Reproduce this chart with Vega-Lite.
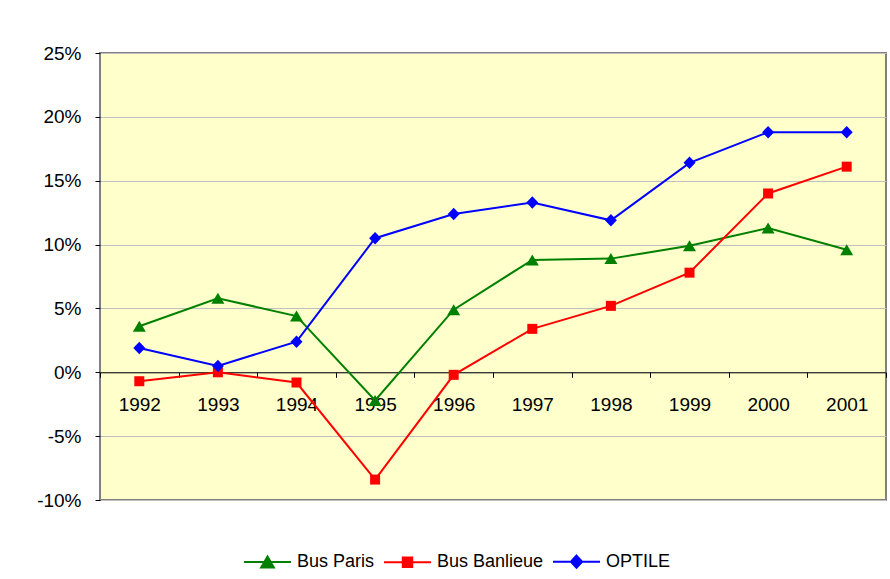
{
  "$schema": "https://vega.github.io/schema/vega-lite/v6.json",
  "width": 786,
  "height": 447,
  "autosize": {"type": "none"},
  "padding": {"left": 100, "top": 53, "right": 4, "bottom": 79},
  "background": "#ffffff",
  "config": {
    "font": "Liberation Sans",
    "view": {"fill": "#FFFFCC", "stroke": "#808080", "strokeWidth": 2}
  },
  "data": {
    "values": [
      {"year": "1992", "series": "Bus Paris", "value": 3.6},
      {"year": "1993", "series": "Bus Paris", "value": 5.8},
      {"year": "1994", "series": "Bus Paris", "value": 4.4},
      {"year": "1995", "series": "Bus Paris", "value": -2.2},
      {"year": "1996", "series": "Bus Paris", "value": 4.9},
      {"year": "1997", "series": "Bus Paris", "value": 8.8},
      {"year": "1998", "series": "Bus Paris", "value": 8.9},
      {"year": "1999", "series": "Bus Paris", "value": 9.9},
      {"year": "2000", "series": "Bus Paris", "value": 11.3},
      {"year": "2001", "series": "Bus Paris", "value": 9.6},
      {"year": "1992", "series": "Bus Banlieue", "value": -0.7},
      {"year": "1993", "series": "Bus Banlieue", "value": 0.0},
      {"year": "1994", "series": "Bus Banlieue", "value": -0.8},
      {"year": "1995", "series": "Bus Banlieue", "value": -8.4},
      {"year": "1996", "series": "Bus Banlieue", "value": -0.2},
      {"year": "1997", "series": "Bus Banlieue", "value": 3.4},
      {"year": "1998", "series": "Bus Banlieue", "value": 5.2},
      {"year": "1999", "series": "Bus Banlieue", "value": 7.8},
      {"year": "2000", "series": "Bus Banlieue", "value": 14.0},
      {"year": "2001", "series": "Bus Banlieue", "value": 16.1},
      {"year": "1992", "series": "OPTILE", "value": 1.9},
      {"year": "1993", "series": "OPTILE", "value": 0.5},
      {"year": "1994", "series": "OPTILE", "value": 2.4},
      {"year": "1995", "series": "OPTILE", "value": 10.5},
      {"year": "1996", "series": "OPTILE", "value": 12.4},
      {"year": "1997", "series": "OPTILE", "value": 13.3},
      {"year": "1998", "series": "OPTILE", "value": 11.9},
      {"year": "1999", "series": "OPTILE", "value": 16.4},
      {"year": "2000", "series": "OPTILE", "value": 18.8},
      {"year": "2001", "series": "OPTILE", "value": 18.8}
    ]
  },
  "encoding": {
    "x": {
      "field": "year",
      "type": "ordinal",
      "scale": {"type": "band", "paddingInner": 0, "paddingOuter": 0},
      "axis": {
        "title": null,
        "orient": "bottom",
        "offset": -127.7,
        "domainColor": "#000000",
        "domainWidth": 1,
        "tickColor": "#000000",
        "tickSize": 5,
        "tickBand": "extent",
        "labelAngle": 0,
        "labelFontSize": 19,
        "labelColor": "#000000",
        "labelPadding": 18,
        "grid": false
      }
    },
    "y": {
      "field": "value",
      "type": "quantitative",
      "scale": {"domain": [-10, 25], "nice": false, "zero": false},
      "axis": {
        "title": null,
        "values": [-10, -5, 0, 5, 10, 15, 20, 25],
        "labelExpr": "datum.value + '%'",
        "labelFontSize": 19,
        "labelColor": "#000000",
        "labelPadding": 14,
        "tickColor": "#000000",
        "tickSize": 5,
        "domain": false,
        "grid": true,
        "gridColor": "#C0C0C0",
        "gridWidth": 1
      }
    }
  },
  "layer": [
    {
      "mark": {"type": "line", "strokeWidth": 2},
      "encoding": {
        "color": {
          "field": "series",
          "type": "nominal",
          "scale": {"domain": ["Bus Paris", "Bus Banlieue", "OPTILE"], "range": ["#008000", "#FF0000", "#0000FF"]},
          "legend": {
            "title": null,
            "orient": "none",
            "legendX": 143,
            "legendY": 484,
            "direction": "horizontal",
            "padding": 0,
            "symbolSize": 2209,
            "symbolStrokeWidth": 2,
            "symbolOpacity": 1,
            "labelFontSize": 18,
            "labelColor": "#000000",
            "labelOffset": 5,
            "columnPadding": 5,
            "encode": {
              "symbols": {
                "update": {
                  "shape": {"signal": "datum.value === 'Bus Paris' ? 'M-1,0H1M0,-0.24L0.27,0.23L-0.27,0.23Z' : datum.value === 'Bus Banlieue' ? 'M-1,0H1M-0.2,-0.2H0.2V0.2H-0.2Z' : 'M-1,0H1M0,-0.26L0.24,0L0,0.26L-0.24,0Z'"},
                  "size": {"value": 2209},
                  "fill": {"signal": "datum.value === 'Bus Paris' ? '#008000' : datum.value === 'Bus Banlieue' ? '#FF0000' : '#0000FF'"},
                  "stroke": {"signal": "datum.value === 'Bus Paris' ? '#008000' : datum.value === 'Bus Banlieue' ? '#FF0000' : '#0000FF'"},
                  "strokeWidth": {"value": 2},
                  "opacity": {"value": 1}
                }
              }
            }
          }
        }
      }
    },
    {
      "transform": [{"filter": "datum.series === 'Bus Paris'"}],
      "mark": {"type": "point", "filled": true, "opacity": 1, "color": "#008000", "shape": "M0,-1.1L1.3,1.1L-1.3,1.1Z", "size": 100}
    },
    {
      "transform": [{"filter": "datum.series === 'Bus Banlieue'"}],
      "mark": {"type": "point", "filled": true, "opacity": 1, "color": "#FF0000", "shape": "square", "size": 100}
    },
    {
      "transform": [{"filter": "datum.series === 'OPTILE'"}],
      "mark": {"type": "point", "filled": true, "opacity": 1, "color": "#0000FF", "shape": "M0,-1.25L1.2,0L0,1.25L-1.2,0Z", "size": 100}
    }
  ]
}
